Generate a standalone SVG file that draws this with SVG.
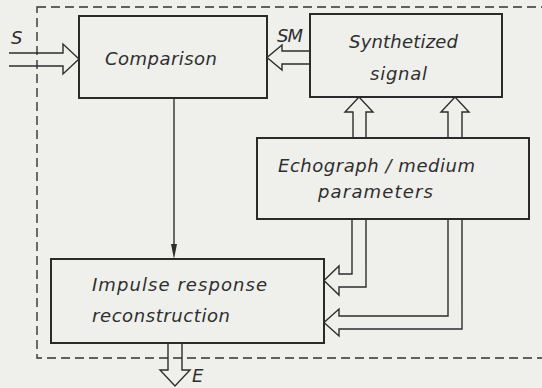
<svg xmlns="http://www.w3.org/2000/svg" width="542" height="388" viewBox="0 0 542 388">
<style>
.bg{fill:#efefec}
.box{fill:none;stroke:#2a2a2a;stroke-width:2}
.ln{fill:none;stroke:#2e2e2e;stroke-width:1.4;stroke-linejoin:miter}
.dash{fill:none;stroke:#333;stroke-width:1.4;stroke-dasharray:9 5}
.t{font-family:"DejaVu Sans","Liberation Sans",sans-serif;font-style:italic;font-size:18px;fill:#2e2e2e}
</style>
<rect class="bg" x="0" y="0" width="542" height="388"/>
<rect id="boundary" class="dash" x="37" y="7" width="520" height="351"/>
<g id="comparison">
<rect class="box" x="79" y="16" width="188" height="82"/>
<text class="t" x="105" y="65" textLength="112" lengthAdjust="spacing">Comparison</text>
</g>
<g id="synthetized">
<rect class="box" x="310" y="14" width="192" height="83"/>
<text class="t" x="349" y="48" textLength="109" lengthAdjust="spacing">Synthetized</text>
<text class="t" x="370" y="80" textLength="57" lengthAdjust="spacing">signal</text>
</g>
<g id="echograph">
<rect class="box" x="257" y="138" width="272" height="81"/>
<text class="t" x="278" y="172" textLength="197" lengthAdjust="spacing">Echograph / medium</text>
<text class="t" x="318" y="198" textLength="115" lengthAdjust="spacing">parameters</text>
</g>
<g id="impulse">
<rect class="box" x="51" y="259" width="273" height="84"/>
<text class="t" x="92" y="291" textLength="175" lengthAdjust="spacing">Impulse  response</text>
<text class="t" x="92" y="322" textLength="138" lengthAdjust="spacing">reconstruction</text>
</g>
<g id="connectors">
<path class="ln" d="M9,53 H63 V44 L79,59 L63,74 V66 H9"/>
<text class="t" x="11" y="44">S</text>
<path class="ln" d="M310,51 H282 V45 L267,57.5 L282,70 V64 H310"/>
<text class="t" x="277" y="42" textLength="26" lengthAdjust="spacing">SM</text>
<path class="ln" d="M353,138 V112 H345 L359,97 L373,112 H366 V138"/>
<path class="ln" d="M448,138 V112 H441 L455,97 L469,112 H462 V138"/>
<path class="ln" d="M352,219 V274 H339 V266 L324,280.5 L339,295 V287 H366 V219"/>
<path class="ln" d="M448,219 V316 H339 V309 L324,322.5 L339,336 V329 H462 V219"/>
<line class="ln" x1="174" y1="98" x2="174" y2="246"/>
<polygon points="171,244 177,244 174,259" fill="#2e2e2e"/>
<path class="ln" d="M168,343 V370 H160 L175,386 L190,370 H182 V343"/>
<text class="t" x="192" y="382">E</text>
</g>
</svg>
